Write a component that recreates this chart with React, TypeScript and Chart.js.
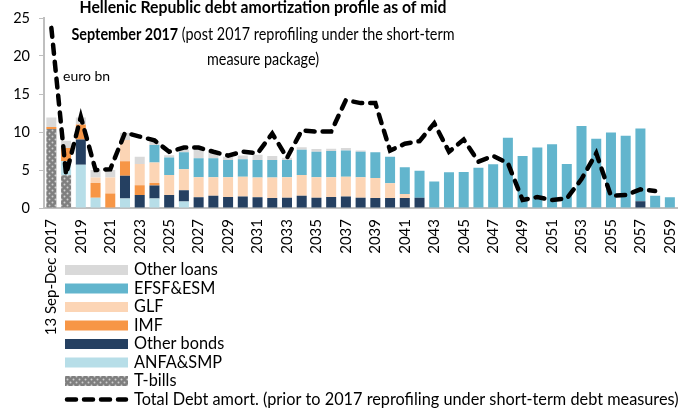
import React, { useEffect, useRef } from 'react';
import { Chart, registerables } from 'chart.js';

Chart.register(...registerables);

const FONT = 'Lato, "Open Sans", sans-serif';

const categories = [
  '13 Sep-Dec 2017', '2018', '2019', '2020', '2021', '2022', '2023', '2024', '2025', '2026',
  '2027', '2028', '2029', '2030', '2031', '2032', '2033', '2034', '2035', '2036',
  '2037', '2038', '2039', '2040', '2041', '2042', '2043', '2044', '2045', '2046',
  '2047', '2048', '2049', '2050', '2051', '2052', '2053', '2054', '2055', '2056',
  '2057', '2058', '2059',
];

const tBills = [10.4, 4.3, 0, 0, 0, 0, 0, 0, 0, 0, 0, 0, 0, 0, 0, 0, 0, 0, 0, 0, 0, 0, 0, 0, 0, 0, 0, 0, 0, 0, 0, 0, 0, 0, 0, 0, 0, 0, 0, 0, 0, 0, 0];
const anfaSmp = [0, 1.9, 5.7, 1.35, 0, 1.25, 0, 1.25, 0, 0.85, 0, 0, 0, 0, 0, 0, 0, 0, 0, 0, 0, 0, 0, 0, 0, 0, 0, 0, 0, 0, 0, 0, 0, 0, 0, 0, 0, 0, 0, 0, 0, 0, 0];
const otherBonds = [0, 0, 3.3, 0, 0, 3.0, 1.7, 1.7, 1.7, 1.5, 1.4, 1.6, 1.45, 1.5, 1.4, 1.3, 1.35, 1.6, 1.35, 1.45, 1.5, 1.35, 1.3, 1.3, 1.3, 1.35, 0, 0, 0, 0, 0, 0, 0, 0, 0, 0, 0, 0, 0, 0, 0.9, 0, 0];
const imf = [0.25, 1.7, 2.0, 1.95, 1.9, 1.9, 1.3, 0.35, 0, 0, 0, 0, 0, 0, 0, 0, 0, 0, 0, 0, 0, 0, 0, 0, 0, 0, 0, 0, 0, 0, 0, 0, 0, 0, 0, 0, 0, 0, 0, 0, 0, 0, 0];
const glf = [0, 0, 0, 0.7, 2.1, 2.8, 2.8, 2.7, 2.65, 2.75, 2.65, 2.45, 2.6, 2.6, 2.6, 2.7, 2.7, 2.75, 2.7, 2.6, 2.6, 2.7, 2.65, 1.95, 0.55, 0, 0, 0, 0, 0, 0, 0, 0, 0, 0, 0, 0, 0, 0, 0, 0, 0, 0];
const efsfEsm = [0, 0, 0, 0, 0, 0, 0, 2.3, 2.3, 2.25, 2.5, 2.5, 2.25, 2.3, 2.3, 2.3, 2.25, 3.3, 3.35, 3.45, 3.45, 3.35, 3.4, 3.5, 3.5, 3.55, 3.5, 4.7, 4.75, 5.3, 5.75, 9.25, 6.85, 7.95, 8.4, 5.8, 10.8, 9.1, 9.95, 9.5, 9.55, 1.6, 1.4];
const otherLoans = [1.25, 0.95, 0.9, 1.0, 1.0, 0.95, 0.95, 0.45, 0.3, 0.35, 1.3, 0.85, 0.45, 0.5, 0.7, 0.55, 0.3, 0.35, 0.35, 0.3, 0.35, 0.15, 0, 0, 0, 0, 0, 0, 0, 0, 0, 0, 0, 0, 0, 0, 0, 0, 0, 0, 0, 0, 0];
const totalPrior = [23.7, 4.4, 12.0, 5.0, 5.1, 9.9, 9.4, 8.9, 7.4, 7.95, 7.95, 7.4, 6.9, 7.4, 7.2, 9.8, 6.6, 10.2, 10.05, 10.05, 14.2, 13.8, 13.8, 7.55, 8.45, 8.8, 11.15, 7.4, 9.0, 6.1, 6.85, 5.9, 1.05, 1.45, 1.05, 1.25, 3.8, 7.2, 1.6, 1.7, 2.45, 2.25, null];

const yTicks = [0, 5, 10, 15, 20, 25];

const titleLine1 = 'Hellenic Republic debt amortization profile as of mid';
const titleLine2Bold = 'September 2017';
const titleLine2Normal = ' (post 2017 reprofiling under the short-term';
const titleLine3 = 'measure package)';
const unitLabel = 'euro bn';

type Part = { text: string; bold: boolean };

function partsWidth(ctx: CanvasRenderingContext2D, parts: Part[], size: number) {
  let w = 0;
  for (const p of parts) {
    ctx.font = `${p.bold ? 'bold ' : ''}${size}px ${FONT}`;
    w += ctx.measureText(p.text).width;
  }
  return w;
}

function drawParts(ctx: CanvasRenderingContext2D, parts: Part[], size: number, kx: number, cx: number, cy: number) {
  const total = partsWidth(ctx, parts, size);
  ctx.save();
  ctx.translate(cx - (total * kx) / 2, cy);
  ctx.scale(kx, 1);
  ctx.textAlign = 'left';
  ctx.textBaseline = 'middle';
  let x = 0;
  for (const p of parts) {
    ctx.font = `${p.bold ? 'bold ' : ''}${size}px ${FONT}`;
    ctx.fillText(p.text, x, 0);
    x += ctx.measureText(p.text).width;
  }
  ctx.restore();
}

const overlayPlugin = {
  id: 'overlay',
  afterDraw(chart: any) {
    const { ctx, chartArea } = chart;
    ctx.save();
    ctx.fillStyle = '#000';
    // Title (Calibri-like proportions: tall glyphs, compressed horizontally)
    const l1: Part[] = [{ text: titleLine1, bold: true }];
    const l2: Part[] = [{ text: titleLine2Bold, bold: true }, { text: titleLine2Normal, bold: false }];
    const l3: Part[] = [{ text: titleLine3, bold: false }];
    const size = 17;
    const k1 = 367 / partsWidth(ctx, l1, size);
    const k2 = 383 / partsWidth(ctx, l2, size);
    const cx = 263;
    drawParts(ctx, l1, size, k1, cx, 8);
    drawParts(ctx, l2, size, k2, cx, 35);
    drawParts(ctx, l3, size, k2, cx, 60);
    // unit label
    ctx.font = `14px ${FONT}`;
    ctx.textAlign = 'left';
    ctx.textBaseline = 'middle';
    ctx.fillText(unitLabel, chartArea.left + 19, 76);

    // Legend
    const ds = chart.data.datasets;
    const items: any[] = [];
    for (let i = ds.length - 1; i >= 0; i--) if (ds[i].type !== 'line') items.push(ds[i]);
    for (const d of ds) if (d.type === 'line') items.push(d);
    const boxX = chartArea.left + 21;
    const boxW = 63;
    const textX = boxX + 69;
    items.forEach((d, k) => {
      const y = 270 + k * 18.5;
      if (d.type === 'line') {
        ctx.save();
        ctx.strokeStyle = d.borderColor;
        ctx.lineWidth = d.borderWidth;
        ctx.lineCap = 'round';
        ctx.setLineDash([9, 8]);
        ctx.beginPath();
        ctx.moveTo(boxX + 2, y);
        ctx.lineTo(boxX + boxW - 2, y);
        ctx.stroke();
        ctx.restore();
      } else {
        ctx.fillStyle = d.backgroundColor;
        ctx.fillRect(boxX, y - 5, boxW, 10);
      }
      ctx.fillStyle = '#000';
      ctx.font = `16.3px ${FONT}`;
      ctx.textAlign = 'left';
      ctx.textBaseline = 'middle';
      ctx.fillText(d.label, textX, y);
    });
    ctx.restore();
  },
};

export default function App() {
  const ref = useRef<HTMLCanvasElement>(null);

  useEffect(() => {
    document.body.style.margin = '0';
    const canvas = ref.current!;
    const ctx = canvas.getContext('2d')!;

    const pc = document.createElement('canvas');
    pc.width = 6;
    pc.height = 6;
    const p = pc.getContext('2d')!;
    p.fillStyle = '#7f7f7f';
    p.fillRect(0, 0, 6, 6);
    p.fillStyle = '#cfcfcf';
    p.beginPath();
    p.arc(1.5, 1.5, 1, 0, Math.PI * 2);
    p.fill();
    p.beginPath();
    p.arc(4.5, 4.5, 1, 0, Math.PI * 2);
    p.fill();
    const pattern = ctx.createPattern(pc, 'repeat');

    const barCommon = {
      type: 'bar' as const,
      stack: 'bars',
      order: 1,
      borderWidth: 0,
      barPercentage: 0.68,
      categoryPercentage: 1,
    };

    const chart = new Chart(canvas, {
      type: 'bar',
      data: {
        labels: categories,
        datasets: [
          { ...barCommon, label: 'T-bills', data: tBills, backgroundColor: pattern as any },
          { ...barCommon, label: 'ANFA&SMP', data: anfaSmp, backgroundColor: '#B7DEE8' },
          { ...barCommon, label: 'Other bonds', data: otherBonds, backgroundColor: '#254061' },
          { ...barCommon, label: 'IMF', data: imf, backgroundColor: '#F79646' },
          { ...barCommon, label: 'GLF', data: glf, backgroundColor: '#FCD5B5' },
          { ...barCommon, label: 'EFSF&ESM', data: efsfEsm, backgroundColor: '#62B5CD' },
          { ...barCommon, label: 'Other loans', data: otherLoans, backgroundColor: '#D9D9D9' },
          {
            type: 'line',
            label: 'Total Debt amort. (prior to 2017 reprofiling under short-term debt measures)',
            data: totalPrior as any,
            stack: 'line',
            order: 0,
            borderColor: '#000',
            backgroundColor: '#000',
            borderWidth: 4.5,
            borderDash: [9, 8],
            borderCapStyle: 'round',
            pointRadius: 0,
            tension: 0,
            fill: false,
          } as any,
        ],
      },
      options: {
        responsive: false,
        animation: false,
        layout: { padding: { top: 18, right: 11, bottom: 63, left: 0 } },
        plugins: {
          legend: { display: false },
          title: { display: false },
          tooltip: { enabled: false },
        },
        scales: {
          x: {
            stacked: true,
            grid: { display: false },
            border: { display: true, color: '#BFBFBF', width: 2 },
            ticks: {
              autoSkip: false,
              maxRotation: 90,
              minRotation: 90,
              padding: 3,
              color: '#000',
              font: { family: FONT, size: 15 },
              callback: (_v: any, i: number) => (i % 2 === 0 ? categories[i] : ''),
            },
            afterFit: (scale: any) => {
              scale.height = 140;
            },
          },
          y: {
            stacked: true,
            min: 0,
            max: 25,
            afterBuildTicks: (scale: any) => {
              scale.ticks = yTicks.map((v) => ({ value: v }));
            },
            grid: { display: true, drawOnChartArea: false, drawTicks: true, tickLength: 5, color: '#BFBFBF' },
            border: { display: true, color: '#BFBFBF', width: 2 },
            ticks: {
              padding: 9,
              color: '#000',
              font: { family: FONT, size: 14.5 },
            },
            afterFit: (scale: any) => {
              scale.width = 44;
            },
          },
        },
      },
      plugins: [overlayPlugin],
    });

    return () => chart.destroy();
  }, []);

  return (
    <div style={{ position: 'relative', width: 691, height: 411 }}>
      <canvas ref={ref} width={691} height={411} style={{ display: 'block' }} />
    </div>
  );
}
